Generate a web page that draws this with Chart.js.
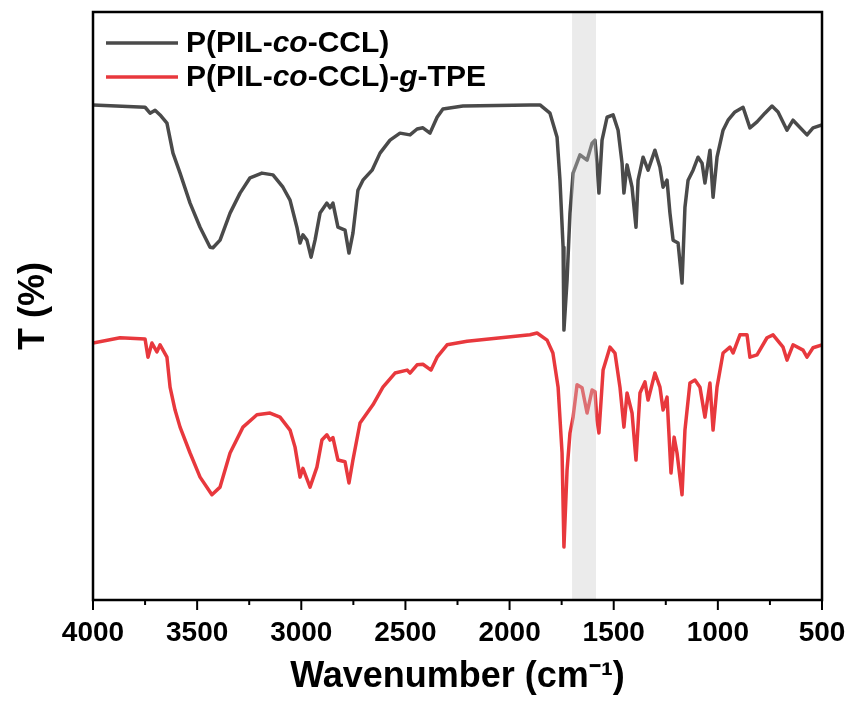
<!DOCTYPE html>
<html>
<head>
<meta charset="utf-8">
<script src="https://cdn.jsdelivr.net/npm/chart.js@4.4.0/dist/chart.umd.min.js"></script>
<style>
  body { margin: 0; background: #fff; }
  #wrap { width: 852px; height: 702px; }
</style>
</head>
<body>
<div id="wrap"><canvas id="ftir"></canvas></div>
<script>
'use strict';

// Axis range and ticks
var xMin = 500;
var xMax = 4000;
var xStep = 500;
var bandRange = [1585, 1700];

// P(PIL-co-CCL)
var wnBlack = [4000, 3750, 3726, 3702, 3678, 3645, 3616, 3582, 3534, 3486, 3438, 3424, 3390, 3342, 3294, 3246,
  3189, 3136, 3088, 3054, 3021, 3006, 2992, 2973, 2953, 2934, 2910, 2877, 2862, 2848, 2824, 2790, 2771, 2752,
  2728, 2704, 2660, 2622, 2574, 2526, 2478, 2444, 2416, 2382, 2348, 2320, 2224, 1902, 1854, 1806, 1772, 1758,
  1743, 1739, 1724, 1710, 1695, 1662, 1628, 1604, 1590, 1580, 1571, 1556, 1532, 1503, 1479, 1460, 1451, 1436,
  1412, 1393, 1383, 1359, 1335, 1302, 1278, 1263, 1244, 1230, 1215, 1191, 1172, 1158, 1143, 1119, 1095, 1076,
  1062, 1038, 1023, 1004, 975, 951, 918, 879, 846, 812, 774, 740, 711, 668, 639, 572, 543, 500];
var tBlack = [84.2, 83.8, 82.8, 83.3, 82.5, 81.1, 76.0, 72.6, 67.5, 63.4, 60.0, 59.9, 61.2, 65.8, 69.2, 71.8,
  72.6, 72.3, 70.2, 68.0, 63.4, 60.7, 62.1, 61.2, 58.3, 61.2, 65.8, 67.5, 66.7, 67.5, 63.4, 62.9, 59.0, 62.4,
  69.7, 71.4, 73.1, 76.0, 78.2, 79.4, 79.1, 80.1, 80.3, 79.4, 82.1, 83.5, 84.0, 84.2, 84.2, 82.8, 78.7, 71.4,
  60.0, 45.9, 54.4, 65.8, 72.6, 75.7, 74.8, 77.7, 78.2, 74.3, 69.2, 78.2, 82.1, 82.5, 79.9, 74.3, 69.2, 74.0,
  70.2, 63.4, 71.4, 75.3, 73.1, 76.5, 73.6, 70.2, 71.4, 65.8, 61.2, 60.7, 53.9, 66.8, 71.4, 73.1, 75.3, 74.3,
  70.9, 76.5, 68.5, 75.3, 79.9, 81.6, 83.0, 83.8, 80.3, 81.3, 82.8, 84.0, 83.0, 79.9, 81.6, 79.1, 80.3, 80.8];

// P(PIL-co-CCL)-g-TPE
var wnRed = [4000, 3870, 3750, 3736, 3717, 3693, 3678, 3645, 3630, 3606, 3582, 3534, 3486, 3429, 3390, 3342,
  3280, 3213, 3150, 3102, 3054, 3030, 3006, 2992, 2958, 2925, 2901, 2877, 2862, 2848, 2824, 2790, 2771, 2752,
  2718, 2656, 2608, 2550, 2492, 2478, 2444, 2416, 2377, 2348, 2300, 2204, 1902, 1868, 1820, 1792, 1767, 1748,
  1739, 1724, 1710, 1695, 1676, 1652, 1628, 1604, 1590, 1580, 1571, 1551, 1518, 1494, 1470, 1451, 1436, 1412,
  1393, 1374, 1350, 1335, 1302, 1278, 1263, 1244, 1225, 1210, 1196, 1172, 1158, 1134, 1110, 1086, 1062, 1038,
  1023, 1004, 975, 942, 927, 894, 860, 846, 812, 764, 735, 687, 668, 639, 591, 572, 543, 500];
var tRed = [43.7, 44.6, 44.4, 41.3, 43.7, 42.2, 43.4, 41.3, 36.2, 32.3, 29.4, 25.0, 20.9, 17.9, 19.2, 25.0,
  29.4, 31.5, 31.8, 31.1, 28.9, 26.0, 20.9, 22.4, 19.2, 22.6, 27.2, 28.1, 27.2, 27.6, 23.8, 23.5, 19.9, 23.8,
  30.1, 33.2, 36.2, 38.6, 39.1, 38.6, 40.0, 40.1, 39.1, 41.3, 43.4, 44.0, 45.1, 45.4, 44.2, 42.0, 36.2, 25.0,
  9.0, 22.1, 28.4, 31.1, 36.6, 36.1, 31.8, 35.7, 35.4, 30.6, 28.4, 39.1, 43.0, 42.0, 36.2, 29.4, 35.2, 31.8,
  23.8, 35.2, 37.1, 34.0, 38.6, 36.2, 32.3, 34.5, 21.6, 27.7, 25.0, 17.9, 28.9, 36.9, 37.4, 36.2, 31.1, 36.9,
  28.9, 36.2, 42.0, 43.0, 42.0, 45.1, 45.1, 41.3, 41.7, 44.6, 45.1, 43.0, 40.8, 43.4, 42.5, 41.3, 42.9, 43.4];

var blackColor = '#4a4a4a';
var redColor = '#e8383d';
var fontFamily = '"Liberation Sans", Arial, sans-serif';

function toPoints(xs, ys) {
  var pts = [];
  for (var i = 0; i < xs.length; i++) {
    pts.push({ x: xs[i], y: ys[i] });
  }
  return pts;
}

// Legend entries, split into plain / italic runs
var legendItems = [
  { color: blackColor, parts: [['P(PIL-', false], ['co', true], ['-CCL)', false]] },
  { color: redColor, parts: [['P(PIL-', false], ['co', true], ['-CCL)-', false], ['g', true], ['-TPE', false]] }
];

// Shaded band drawn over the curves
var bandPlugin = {
  id: 'band',
  afterDatasetsDraw: function (chart) {
    var ctx = chart.ctx;
    var a = chart.chartArea;
    var xs = chart.scales.x;
    var p1 = xs.getPixelForValue(bandRange[1]);
    var p2 = xs.getPixelForValue(bandRange[0]);
    ctx.save();
    ctx.fillStyle = 'rgba(202,202,202,0.38)';
    ctx.fillRect(Math.min(p1, p2), a.top, Math.abs(p2 - p1), a.bottom - a.top);
    ctx.restore();
  }
};

// Frame, tick marks and legend
var framePlugin = {
  id: 'frame',
  afterDraw: function (chart) {
    var ctx = chart.ctx;
    var a = chart.chartArea;
    var xs = chart.scales.x;
    ctx.save();
    ctx.strokeStyle = '#000';
    ctx.lineWidth = 2;
    for (var v = xMin; v <= xMax; v += xStep / 2) {
      var px = xs.getPixelForValue(v);
      var len = v % xStep === 0 ? 10 : 5;
      ctx.beginPath();
      ctx.moveTo(px, a.bottom);
      ctx.lineTo(px, a.bottom + len);
      ctx.stroke();
    }
    ctx.lineWidth = 2.5;
    ctx.strokeRect(a.left, a.top, a.right - a.left, a.bottom - a.top);

    // legend
    var lx = a.left + 13;
    var ly = a.top + 31;
    ctx.textBaseline = 'middle';
    ctx.textAlign = 'left';
    for (var i = 0; i < legendItems.length; i++) {
      var item = legendItems[i];
      var y = ly + i * 34;
      ctx.strokeStyle = item.color;
      ctx.lineWidth = 3.5;
      ctx.beginPath();
      ctx.moveTo(lx, y);
      ctx.lineTo(lx + 72, y);
      ctx.stroke();
      var tx = lx + 80;
      ctx.fillStyle = '#000';
      for (var j = 0; j < item.parts.length; j++) {
        var part = item.parts[j];
        ctx.font = (part[1] ? 'italic ' : '') + 'bold 30px ' + fontFamily;
        ctx.fillText(part[0], tx, y + 1);
        tx += ctx.measureText(part[0]).width;
      }
    }
    ctx.restore();
  }
};

var ctx = document.getElementById('ftir').getContext('2d');
var ftirChart = new Chart(ctx, {
  type: 'line',
  data: {
    datasets: [{
      label: 'P(PIL-co-CCL)',
      data: toPoints(wnBlack, tBlack),
      borderColor: blackColor,
      borderWidth: 3.5,
      pointRadius: 0,
      tension: 0,
      borderJoinStyle: 'round'
    }, {
      label: 'P(PIL-co-CCL)-g-TPE',
      data: toPoints(wnRed, tRed),
      borderColor: redColor,
      borderWidth: 3.5,
      pointRadius: 0,
      tension: 0,
      borderJoinStyle: 'round'
    }]
  },
  options: {
    responsive: true,
    maintainAspectRatio: false,
    animation: false,
    layout: { padding: { top: 12, right: 30, left: 0, bottom: 0 } },
    plugins: {
      legend: { display: false },
      tooltip: { enabled: false }
    },
    scales: {
      x: {
        type: 'linear',
        reverse: true,
        min: xMin,
        max: xMax,
        afterFit: function (s) {
          s.height = 102;
          s.paddingLeft = 0;
          s.paddingRight = 0;
        },
        ticks: {
          stepSize: xStep,
          color: '#000',
          padding: 16,
          maxRotation: 0,
          callback: function (value) { return String(value); },
          font: { family: fontFamily, size: 28, weight: 'bold' }
        },
        grid: { display: false, drawTicks: false },
        border: { display: false },
        title: {
          display: true,
          text: 'Wavenumber (cm\u207B\u00B9)',
          color: '#000',
          padding: { top: 0, bottom: 3 },
          font: { family: fontFamily, size: 36, weight: 'bold' }
        }
      },
      y: {
        min: 0,
        max: 100,
        afterFit: function (s) { s.width = 93; },
        ticks: { display: false },
        grid: { display: false, drawTicks: false },
        border: { display: false },
        title: {
          display: true,
          text: 'T (%)',
          color: '#000',
          padding: { top: 12, bottom: 0 },
          font: { family: fontFamily, size: 36, weight: 'bold' }
        }
      }
    }
  },
  plugins: [bandPlugin, framePlugin]
});
</script>
</body>
</html>
